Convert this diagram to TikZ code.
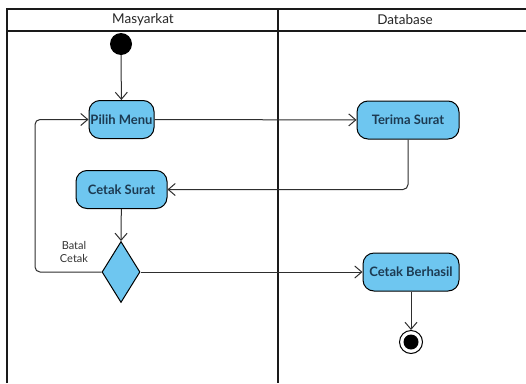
\documentclass[tikz,border=0pt]{standalone}
\usepackage{fontspec}
\setmainfont{Lato}
\usetikzlibrary{shapes.geometric,arrows.meta}
\definecolor{actfill}{HTML}{6EC6F0}
\definecolor{acttext}{HTML}{1C3A52}
\definecolor{lanecol}{HTML}{1A1A1A}
\definecolor{flowcol}{HTML}{2E2E2E}
\begin{document}
\begin{tikzpicture}[x=1pt,y=-1pt,
  activity/.style={draw=black,line width=1pt,fill=actfill,rounded corners=11pt,
    minimum height=38pt,inner sep=0pt,font=\bfseries\fontsize{13}{15}\selectfont,text=acttext},
  decision/.style={draw=black,line width=1pt,fill=actfill,diamond,
    minimum width=38pt,minimum height=61pt,inner sep=0pt,aspect=0.62},
  flow/.style={draw=flowcol,line width=1pt,rounded corners=5pt,
    -{Straight Barb[length=7pt,width=12pt,line width=1pt]}},
  lane/.style={draw=lanecol,line width=1.6pt},
  header/.style={font=\fontsize{13.5}{15}\selectfont,text=black!85}]
\useasboundingbox (0,0) rectangle (526,383);
\fill[white] (0,0) rectangle (526,383);
% swimlane frame
\draw[lane] (7,383) -- (7,9) -- (526,9);
\draw[lane] (7,31) -- (526,31);
\draw[lane] (278,9) -- (278,383);
\node[header] (laneA) at (143,20) {Masyarkat};
\node[header] (laneB) at (405,20) {Database};
% nodes
\node[circle,fill=black,minimum size=22pt,inner sep=0pt] (start) at (121,44) {};
\node[activity,minimum width=65pt] (menu) at (121.5,119.5) {Pilih Menu};
\node[activity,minimum width=102pt] (terima) at (408,120) {Terima Surat};
\node[activity,minimum width=91pt] (cetak) at (121.5,189.5) {Cetak Surat};
\node[decision] (dec) at (121,272) {};
\node[activity,minimum width=96pt] (berhasil) at (411,272) {Cetak Berhasil};
\node[circle,draw=black,line width=1pt,fill=white,minimum size=23pt,inner sep=0pt] (end) at (411,342) {};
\node[circle,fill=black,minimum size=15pt,inner sep=0pt] (endin) at (end) {};
\node[font=\fontsize{11}{13}\selectfont,align=center,text=black!80] (lbl) at (74,252) {Batal\\Cetak};
% flows
\draw[flow] (start) -- (menu);
\draw[flow] (menu) -- (terima);
\draw[flow] (terima.south) |- (cetak.east);
\draw[flow] (cetak) -- (dec.north);
\draw[flow] (dec.west) -- (35,272) -- (35,119.5) -- (menu.west);
\draw[flow] (dec.east) -- (berhasil.west);
\draw[flow] (berhasil) -- (end);
\end{tikzpicture}
\end{document}
